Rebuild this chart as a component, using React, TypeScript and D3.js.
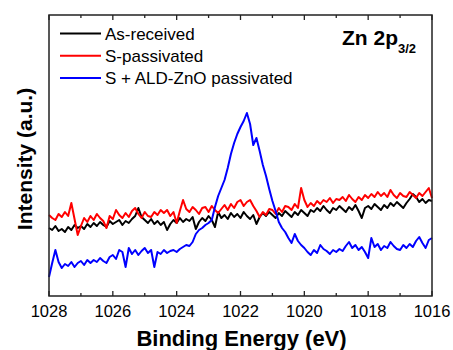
import React from "react";
import * as d3 from "d3";

// Binding energy grid (eV), 0.1 eV step from 1028 down to 1016
const energyStart = 1028;
const energyStep = 0.1;

const asReceived = [
  68, 66, 70, 65, 67, 64, 69, 66, 71, 68,
  70, 67, 72, 69, 73, 70, 74, 71, 69, 75,
  72, 74, 76, 71, 75, 73, 77, 80, 88, 79,
  76, 73, 77, 72, 75, 71, 74, 66, 72, 76,
  73, 78, 74, 77, 75, 79, 67, 74, 78, 75,
  80, 76, 69, 84, 78, 81, 77, 83, 79, 82,
  78, 84, 80, 77, 81, 72, 79, 83, 80, 84,
  81, 78, 83, 80, 85, 82, 79, 84, 81, 86,
  83, 80, 86, 84, 88, 85, 90, 86, 83, 88,
  86, 90, 87, 84, 89, 86, 91, 85, 78, 88,
  90, 87, 92, 89, 86, 91, 88, 93, 90, 94,
  91, 88, 93, 97, 102, 99, 94, 97, 93, 96, 95,
];

const sPassivated = [
  81, 78, 76, 82, 79, 84, 80, 93, 77, 61,
  70, 78, 74, 80, 76, 82, 78, 75, 68, 80,
  77, 86, 81, 78, 83, 79, 85, 88, 82, 78,
  84, 80, 79, 84, 81, 86, 83, 86, 80, 84,
  73, 85, 96, 87, 84, 89, 86, 82, 88, 89,
  84, 90, 86, 83, 87, 91, 86, 92, 88, 94,
  96, 90, 94, 96, 90, 85, 79, 84, 81, 87,
  86, 82, 88, 84, 90, 89, 86, 92, 88, 108,
  96, 89, 93, 90, 95, 92, 96, 94, 98, 93,
  97, 96, 99, 95, 101, 97, 94, 99, 96, 101,
  98, 102, 99, 104, 100, 103, 99, 106, 101, 98,
  103, 100, 99, 104, 101, 98, 103, 100, 104, 108, 98,
];

const sAldZnO = [
  19, 33, 46, 34, 28, 32, 30, 34, 29, 33,
  35, 31, 36, 33, 36, 34, 38, 35, 33, 39,
  41, 37, 46, 44, 29, 48, 42, 46, 41, 45,
  48, 43, 46, 29, 44, 42, 46, 43, 45, 46,
  44, 47, 49, 51, 50, 54, 62, 66, 68, 71,
  73, 76, 89, 100, 108, 116, 128, 142, 153, 162,
  169, 175, 183, 172, 151, 158, 145, 131, 120, 107,
  95, 85, 74, 68, 64, 58, 53, 62, 55, 51,
  48, 44, 41, 46, 43, 51, 47, 45, 42, 46,
  44, 47, 45, 50, 54, 48, 51, 46, 49, 44,
  38, 58, 49, 52, 46, 50, 48, 54, 50, 47,
  46, 51, 48, 52, 49, 55, 59, 53, 48, 56, 58,
];

const seriesNames = ["As-received", "S-passivated", "S + ALD-ZnO passivated"];
const seriesColors = ["#000000", "#ff0000", "#0000ff"];
const majorTicks = [1028, 1026, 1024, 1022, 1020, 1018, 1016];
const minorTicks = [1027, 1025, 1023, 1021, 1019, 1017];

const W = 453;
const H = 350;
const M = { left: 49, right: 432, top: 15, bottom: 296 };
const FONT = "'Liberation Sans', Arial, Helvetica, sans-serif";

export default function App() {
  const x = d3.scaleLinear().domain([1028, 1016]).range([M.left, M.right]);
  const y = d3.scaleLinear().domain([0, 281]).range([M.bottom, M.top]);
  const line = d3
    .line<number>()
    .x((_, i) => x(energyStart - energyStep * i))
    .y((d) => y(d));
  const allSeries = [asReceived, sPassivated, sAldZnO];
  const frame = "#222";

  return (
    <svg
      width={W}
      height={H}
      style={{ position: "absolute", left: 0, top: 0, background: "#fff" }}
      fontFamily={FONT}
    >
      <rect x={0} y={0} width={W} height={H} fill="#fff" />
      {allSeries.map((s, k) => (
        <path
          key={k}
          d={line(s) || ""}
          fill="none"
          stroke={seriesColors[k]}
          strokeWidth={2}
          strokeLinejoin="round"
        />
      ))}
      {/* frame */}
      <rect
        x={M.left}
        y={M.top}
        width={M.right - M.left}
        height={M.bottom - M.top}
        fill="none"
        stroke={frame}
        strokeWidth={1.5}
      />
      {majorTicks.map((t) => (
        <g key={"M" + t}>
          <line x1={x(t)} x2={x(t)} y1={M.bottom} y2={M.bottom - 5} stroke={frame} strokeWidth={1.3} />
          <line x1={x(t)} x2={x(t)} y1={M.top} y2={M.top + 5} stroke={frame} strokeWidth={1.3} />
          <text x={x(t)} y={317} textAnchor="middle" fontSize={16.5} fill="#000">
            {t}
          </text>
        </g>
      ))}
      {minorTicks.map((t) => (
        <g key={"m" + t}>
          <line x1={x(t)} x2={x(t)} y1={M.bottom} y2={M.bottom - 3} stroke={frame} strokeWidth={1.3} />
          <line x1={x(t)} x2={x(t)} y1={M.top} y2={M.top + 3} stroke={frame} strokeWidth={1.3} />
        </g>
      ))}
      <text
        x={(M.left + M.right) / 2 + 1}
        y={346}
        textAnchor="middle"
        fontSize={22}
        fontWeight="bold"
        fill="#000"
      >
        Binding Energy (eV)
      </text>
      <text
        transform="translate(31.5,159) rotate(-90)"
        textAnchor="middle"
        fontSize={21}
        fontWeight="bold"
        fill="#000"
      >
        Intensity (a.u.)
      </text>
      {/* legend */}
      {seriesNames.map((n, k) => (
        <g key={n}>
          <line x1={60} x2={101} y1={33.5 + 22.3 * k} y2={33.5 + 22.3 * k} stroke={seriesColors[k]} strokeWidth={2} />
          <text x={105} y={39.5 + 22.3 * k} fontSize={17} fill="#000">
            {n}
          </text>
        </g>
      ))}
      <text x={342} y={45} fontSize={21} fontWeight="bold" fill="#000">
        Zn 2p
        <tspan fontSize={13} dy={8}>
          3/2
        </tspan>
      </text>
    </svg>
  );
}
